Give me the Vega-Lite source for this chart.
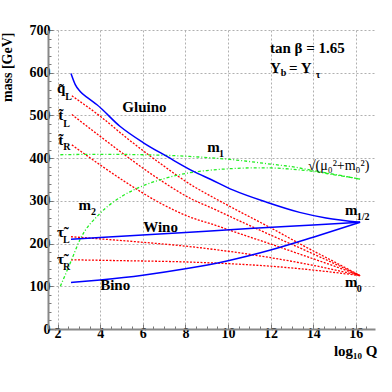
{
  "$schema": "https://vega.github.io/schema/vega-lite/v6.json",
  "width": 327,
  "height": 299,
  "autosize": {"type": "none"},
  "padding": {"left": 48, "top": 30, "right": 17, "bottom": 63},
  "background": "white",
  "config": {"view": {"stroke": null}, "font": "Liberation Serif"},
  "datasets": {
    "blue": [
      {"curve": "gluino", "q": 2.63, "mass": 598}, {"curve": "gluino", "q": 2.83, "mass": 572}, {"curve": "gluino", "q": 3.06, "mass": 556},
      {"curve": "gluino", "q": 3.45, "mass": 540}, {"curve": "gluino", "q": 3.85, "mass": 525}, {"curve": "gluino", "q": 4.94, "mass": 474},
      {"curve": "gluino", "q": 6.03, "mass": 436}, {"curve": "gluino", "q": 7.13, "mass": 404}, {"curve": "gluino", "q": 8.38, "mass": 369},
      {"curve": "gluino", "q": 9.2, "mass": 350}, {"curve": "gluino", "q": 10.25, "mass": 325}, {"curve": "gluino", "q": 11.8, "mass": 297},
      {"curve": "gluino", "q": 13.36, "mass": 273}, {"curve": "gluino", "q": 14.6, "mass": 260}, {"curve": "gluino", "q": 16.2, "mass": 250},
      {"curve": "wino", "q": 2.63, "mass": 210}, {"curve": "wino", "q": 5, "mass": 217}, {"curve": "wino", "q": 8, "mass": 226},
      {"curve": "wino", "q": 11, "mass": 235}, {"curve": "wino", "q": 14, "mass": 243.5}, {"curve": "wino", "q": 16.2, "mass": 250},
      {"curve": "bino", "q": 2.63, "mass": 109}, {"curve": "bino", "q": 4, "mass": 115}, {"curve": "bino", "q": 6, "mass": 126},
      {"curve": "bino", "q": 8, "mass": 141}, {"curve": "bino", "q": 10, "mass": 160}, {"curve": "bino", "q": 12, "mass": 185},
      {"curve": "bino", "q": 14, "mass": 215}, {"curve": "bino", "q": 16.2, "mass": 250}
    ],
    "red": [
      {"curve": "qL", "q": 2.67, "mass": 546}, {"curve": "qL", "q": 4, "mass": 498}, {"curve": "qL", "q": 5.25, "mass": 447},
      {"curve": "qL", "q": 6.81, "mass": 388}, {"curve": "qL", "q": 8.38, "mass": 334}, {"curve": "qL", "q": 9.16, "mass": 312},
      {"curve": "qL", "q": 10.5, "mass": 276}, {"curve": "qL", "q": 12, "mass": 237}, {"curve": "qL", "q": 13.5, "mass": 196},
      {"curve": "qL", "q": 15, "mass": 157}, {"curve": "qL", "q": 16.2, "mass": 125},
      {"curve": "tL", "q": 2.67, "mass": 502}, {"curve": "tL", "q": 4, "mass": 451}, {"curve": "tL", "q": 5.25, "mass": 404},
      {"curve": "tL", "q": 6.81, "mass": 349}, {"curve": "tL", "q": 8.38, "mass": 302}, {"curve": "tL", "q": 9.16, "mass": 285},
      {"curve": "tL", "q": 10.5, "mass": 254}, {"curve": "tL", "q": 12, "mass": 220}, {"curve": "tL", "q": 13.5, "mass": 187},
      {"curve": "tL", "q": 15, "mass": 153}, {"curve": "tL", "q": 16.2, "mass": 125},
      {"curve": "tR", "q": 2.67, "mass": 431}, {"curve": "tR", "q": 4, "mass": 384}, {"curve": "tR", "q": 5.25, "mass": 342},
      {"curve": "tR", "q": 6.81, "mass": 295}, {"curve": "tR", "q": 8.38, "mass": 259}, {"curve": "tR", "q": 9.16, "mass": 247},
      {"curve": "tR", "q": 10.5, "mass": 224}, {"curve": "tR", "q": 12, "mass": 199}, {"curve": "tR", "q": 13.5, "mass": 173},
      {"curve": "tR", "q": 15, "mass": 147}, {"curve": "tR", "q": 16.2, "mass": 125},
      {"curve": "tauL", "q": 2.63, "mass": 216}, {"curve": "tauL", "q": 4, "mass": 211}, {"curve": "tauL", "q": 6, "mass": 203},
      {"curve": "tauL", "q": 8, "mass": 194}, {"curve": "tauL", "q": 10, "mass": 182}, {"curve": "tauL", "q": 12, "mass": 167},
      {"curve": "tauL", "q": 14, "mass": 149}, {"curve": "tauL", "q": 16.2, "mass": 125},
      {"curve": "tauR", "q": 2.63, "mass": 162}, {"curve": "tauR", "q": 5, "mass": 160}, {"curve": "tauR", "q": 8, "mass": 157},
      {"curve": "tauR", "q": 10, "mass": 153}, {"curve": "tauR", "q": 12, "mass": 147}, {"curve": "tauR", "q": 14, "mass": 138},
      {"curve": "tauR", "q": 16.2, "mass": 125}
    ],
    "green": [
      {"curve": "m1", "q": 2.13, "mass": 408}, {"curve": "m1", "q": 4, "mass": 409}, {"curve": "m1", "q": 6, "mass": 408},
      {"curve": "m1", "q": 8.2, "mass": 404}, {"curve": "m1", "q": 10.1, "mass": 397}, {"curve": "m1", "q": 12, "mass": 386},
      {"curve": "m1", "q": 13, "mass": 380}, {"curve": "m1", "q": 14, "mass": 371}, {"curve": "m1", "q": 15, "mass": 362},
      {"curve": "m1", "q": 16.2, "mass": 351},
      {"curve": "m2", "q": 2.13, "mass": 100}, {"curve": "m2", "q": 2.6, "mass": 155}, {"curve": "m2", "q": 3.06, "mass": 210},
      {"curve": "m2", "q": 4, "mass": 271}, {"curve": "m2", "q": 5, "mass": 310}, {"curve": "m2", "q": 6, "mass": 335},
      {"curve": "m2", "q": 7, "mass": 352}, {"curve": "m2", "q": 8, "mass": 364}, {"curve": "m2", "q": 9, "mass": 371},
      {"curve": "m2", "q": 10, "mass": 375}, {"curve": "m2", "q": 11, "mass": 377}, {"curve": "m2", "q": 12, "mass": 377},
      {"curve": "m2", "q": 13, "mass": 374}, {"curve": "m2", "q": 14, "mass": 369}, {"curve": "m2", "q": 15, "mass": 361},
      {"curve": "m2", "q": 16.2, "mass": 351}
    ],
    "mainlabels": [
      {"t": "Gluino", "q": 5.04, "mass": 508}, {"t": "m", "q": 9.02, "mass": 414}, {"t": "m", "q": 2.98, "mass": 279},
      {"t": "Wino", "q": 6.02, "mass": 227}, {"t": "Bino", "q": 4.0, "mass": 91}, {"t": "m", "q": 15.49, "mass": 267},
      {"t": "m", "q": 15.49, "mass": 99}, {"t": "q̃", "q": 1.97, "mass": 552}, {"t": "t̃", "q": 2.03, "mass": 489},
      {"t": "t̃", "q": 2.03, "mass": 431}, {"t": "τ̃", "q": 1.97, "mass": 216}, {"t": "τ̃", "q": 1.97, "mass": 152},
      {"t": "tan β = 1.65", "q": 11.97, "mass": 646}, {"t": "Y", "q": 11.97, "mass": 599}, {"t": "= Y", "q": 12.86, "mass": 599}
    ],
    "sublabels": [
      {"t": "1", "q": 9.58, "mass": 403}, {"t": "2", "q": 3.57, "mass": 267}, {"t": "1/2", "q": 16.04, "mass": 255},
      {"t": "0", "q": 16.04, "mass": 87}, {"t": "L", "q": 2.36, "mass": 536}, {"t": "L", "q": 2.27, "mass": 474},
      {"t": "R", "q": 2.27, "mass": 419}, {"t": "L", "q": 2.25, "mass": 202}, {"t": "R", "q": 2.25, "mass": 138},
      {"t": "b", "q": 12.47, "mass": 592}, {"t": "τ", "q": 14.12, "mass": 588}
    ],
    "notelabels": [
      {"t": "√(μ₀²+m₀²)", "q": 13.75, "mass": 372}
    ]
  },
  "encoding": {
    "x": {
      "field": "q", "type": "quantitative",
      "scale": {"domain": [1.55, 16.9], "nice": false, "zero": false},
      "axis": {
        "values": [2, 2.5, 3, 3.5, 4, 4.5, 5, 5.5, 6, 6.5, 7, 7.5, 8, 8.5, 9, 9.5, 10, 10.5, 11, 11.5, 12, 12.5, 13, 13.5, 14, 14.5, 15, 15.5, 16, 16.5],
        "labelExpr": "datum.value % 2 === 0 ? format(datum.value, 'd') : ''",
        "labelOverlap": false, "labelFlush": false, "labelBound": false,
        "grid": true, "gridDash": [2, 2], "gridColor": "#b0b0b0",
        "gridOpacity": {"condition": {"test": "datum.value % 2 === 0", "value": 1}, "value": 0},
        "tickSize": {"condition": {"test": "datum.value % 2 === 0", "value": -5}, "value": -3},
        "tickColor": "#777777",
        "domainColor": "#888888", "domainWidth": 2,
        "labelFont": "Liberation Serif", "labelFontWeight": "bold", "labelFontSize": 14, "labelColor": "black",
        "labelPadding": 2,
        "title": "log₁₀ Q", "titleFont": "Liberation Serif", "titleFontWeight": "bold", "titleFontSize": 15, "titleColor": "black",
        "titleAnchor": "end", "titleAlign": "right", "titleBaseline": "alphabetic", "titleX": 329, "titleY": 26
      }
    },
    "y": {
      "field": "mass", "type": "quantitative",
      "scale": {"domain": [0, 700], "nice": false},
      "axis": {
        "values": [0, 20, 40, 60, 80, 100, 120, 140, 160, 180, 200, 220, 240, 260, 280, 300, 320, 340, 360, 380, 400, 420, 440, 460, 480, 500, 520, 540, 560, 580, 600, 620, 640, 660, 680, 700],
        "labelExpr": "datum.value % 100 === 0 ? datum.label : ''",
        "labelOverlap": false, "labelBound": false, "labelFlush": false,
        "grid": true, "gridDash": [2, 2], "gridColor": "#b0b0b0",
        "gridOpacity": {"condition": {"test": "datum.value % 100 === 0", "value": 1}, "value": 0},
        "tickSize": {"condition": {"test": "datum.value % 100 === 0", "value": -5}, "value": -3},
        "tickColor": "#777777",
        "domainColor": "#888888", "domainWidth": 2,
        "labelFont": "Liberation Serif", "labelFontWeight": "bold", "labelFontSize": 14, "labelColor": "black",
        "labelPadding": 3,
        "title": "mass [GeV]", "titleFont": "Liberation Serif", "titleFontWeight": "bold", "titleFontSize": 14, "titleColor": "black",
        "titleAngle": -90, "titleAnchor": "end", "titleAlign": "right", "titleBaseline": "alphabetic", "titleX": -37, "titleY": 2
      }
    }
  },
  "layer": [
    {
      "data": {"name": "red"},
      "mark": {"type": "line", "color": "#ff0000", "strokeWidth": 1.3, "strokeDash": [2, 1.5], "interpolate": "monotone"},
      "encoding": {"detail": {"field": "curve"}}
    },
    {
      "data": {"name": "green"},
      "mark": {"type": "line", "color": "#22ee22", "strokeWidth": 1.3, "strokeDash": [3, 2, 1, 2], "interpolate": "monotone"},
      "encoding": {"detail": {"field": "curve"}}
    },
    {
      "data": {"name": "blue"},
      "mark": {"type": "line", "color": "#0000ff", "strokeWidth": 1.5, "interpolate": "monotone"},
      "encoding": {"detail": {"field": "curve"}}
    },
    {
      "data": {"name": "mainlabels"},
      "mark": {"type": "text", "align": "left", "baseline": "alphabetic", "font": "Liberation Serif", "fontWeight": "bold", "fontSize": 15, "color": "black"},
      "encoding": {"text": {"field": "t"}}
    },
    {
      "data": {"name": "sublabels"},
      "mark": {"type": "text", "align": "left", "baseline": "alphabetic", "font": "Liberation Serif", "fontWeight": "bold", "fontSize": 10, "color": "black"},
      "encoding": {"text": {"field": "t"}}
    },
    {
      "data": {"name": "notelabels"},
      "mark": {"type": "text", "align": "left", "baseline": "alphabetic", "font": "Liberation Serif", "fontWeight": "normal", "fontSize": 14, "color": "black"},
      "encoding": {"text": {"field": "t"}}
    },
    {
      "data": {"values": [{}]},
      "mark": {"type": "rule", "color": "#999999", "strokeWidth": 5},
      "encoding": {"y": {"datum": 700}, "x": {"datum": 1.55}, "x2": {"datum": 17.0}}
    },
    {
      "data": {"values": [{}]},
      "mark": {"type": "rule", "color": "#999999", "strokeWidth": 5},
      "encoding": {"x": {"datum": 17.0}, "y": {"datum": 0}, "y2": {"datum": 700}}
    },
    {
      "data": {"values": [{}]},
      "mark": {"type": "rule", "color": "#ffff00", "strokeWidth": 3},
      "encoding": {"y": {"datum": 700}, "x": {"datum": 1.55}, "x2": {"datum": 17.0}}
    },
    {
      "data": {"values": [{}]},
      "mark": {"type": "rule", "color": "#ffff00", "strokeWidth": 3},
      "encoding": {"x": {"datum": 17.0}, "y": {"datum": 0}, "y2": {"datum": 700}}
    }
  ]
}
